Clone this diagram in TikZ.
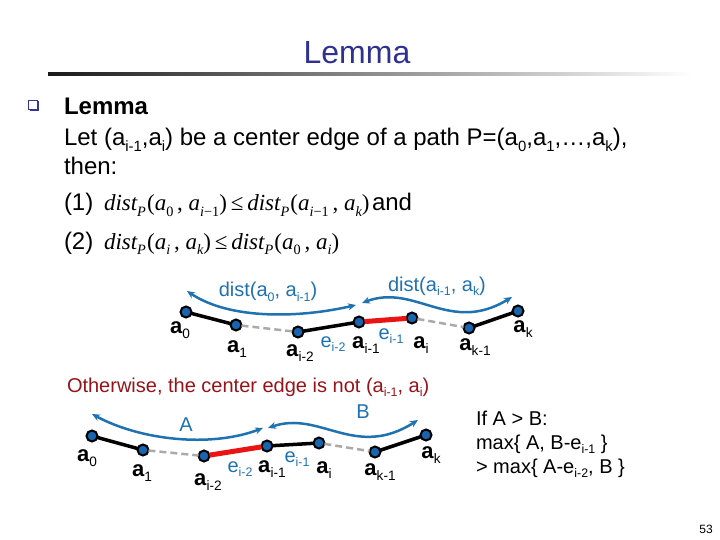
\documentclass[tikz,border=0pt]{standalone}
\usepackage{fontspec}
\usepackage{graphicx}
\setmainfont{Liberation Sans}
\newfontfamily\tms{Liberation Serif}
\usetikzlibrary{arrows.meta}
\definecolor{titleblue}{RGB}{46,49,146}
\definecolor{lblblue}{RGB}{31,114,176}
\definecolor{nodeblue}{RGB}{25,100,175}
\definecolor{darkred}{RGB}{150,20,25}
\definecolor{edgered}{RGB}{235,20,20}
\definecolor{dashgray}{RGB}{170,170,170}
\definecolor{bulblue}{RGB}{51,51,153}
\newcommand\fs[1]{\fontsize{#1}{#1}\selectfont}
\newcommand\lsb[1]{\raisebox{-0.22em}{\scalebox{0.62}{#1}}}
\newcommand\mi[1]{{\itshape #1}}
\newcommand\dst{\mi{dist}\lsb{\mi{P}}\hspace{0.05em}}
\begin{document}
\begin{tikzpicture}[x=1pt,y=-1pt,
  every node/.style={inner sep=0pt, outer sep=0pt},
  txt/.style={anchor=base west, font=\fs{24}},
  vtx/.style={circle, fill=nodeblue, draw=black, line width=2pt, minimum size=11pt},
  alab/.style={font=\fs{22}, anchor=center},
  elab/.style={font=\fs{20}, text=lblblue, anchor=center},
  solidedge/.style={line width=3.5pt, black},
  rededge/.style={line width=5pt, edgered},
  dashedge/.style={line width=2.5pt, dashgray, dash pattern=on 7pt off 4pt},
  distarrow/.style={line width=2.5pt, lblblue, {Stealth[length=8pt,width=7pt]}-{Stealth[length=8pt,width=7pt]}},
  dlab/.style={font=\fs{20}, text=lblblue, anchor=center}
]
\useasboundingbox (0,0) rectangle (720,540);
% title
\node[anchor=base, font=\fs{32}, text=titleblue] (title) at (357,64) {Lemma};
\shade[left color=black!90, right color=white] (48,72.8) rectangle (692,75.4);
% bullet
\fill[bulblue] (29.5,101.5) rectangle (39,111);
\filldraw[fill=white, draw=bulblue, line width=0.8pt] (28,100) rectangle (37,109.5);
\node[txt] (lemhead) at (64,115) {\bfseries Lemma};
\node[txt] (let) at (64,146) {Let (a\lsb{i-1},a\lsb{i}) be a center edge of a path P=(a\lsb{0},a\lsb{1},…,a\lsb{k}),};
\node[txt] (then) at (64,175) {then:};
\node[txt] (one) at (64,211) {(1)};
\node[txt, font=\tms\fs{23}] (f1) at (104,211) {\dst(\mi{a}\lsb{0}\,, \mi{a}\lsb{\mi{i}−1})\,≤\,\dst(\mi{a}\lsb{\mi{i}−1}\,, \mi{a}\lsb{\mi{k}})};
\node[txt] (and) at (372,211) {and};
\node[txt] (two) at (64,249) {(2)};
\node[txt, font=\tms\fs{23}] (f2) at (104,249) {\dst(\mi{a}\lsb{\mi{i}}\,, \mi{a}\lsb{\mi{k}})\,≤\,\dst(\mi{a}\lsb{0}\,, \mi{a}\lsb{\mi{i}})};
% ---------- top diagram
\node[vtx] (ta0) at (186,312) {};
\node[vtx] (ta1) at (236,325) {};
\node[vtx] (tai2) at (298,332) {};
\node[vtx] (tai1) at (359,322) {};
\node[vtx] (tai) at (412,318) {};
\node[vtx] (tak1) at (469,328) {};
\node[vtx] (tak) at (518,311) {};
\draw[solidedge] (ta0) -- (ta1);
\draw[dashedge] (ta1) -- (tai2);
\draw[solidedge] (tai2) -- (tai1);
\draw[rededge] (tai1) -- (tai);
\draw[dashedge] (tai) -- (tak1);
\draw[solidedge] (tak1) -- (tak);
\node[alab] (tla0) at (180,330) {\textbf{a}\lsb{0}};
\node[alab] (tla1) at (237,349) {\textbf{a}\lsb{1}};
\node[alab] (tlai2) at (300,353) {\textbf{a}\lsb{i-2}};
\node[elab] (tlei2) at (333,344) {e\lsb{i-2}};
\node[alab] (tlai1) at (366,345) {\textbf{a}\lsb{i-1}};
\node[elab] (tlei1) at (391,336) {e\lsb{i-1}};
\node[alab] (tlai) at (421,345) {\textbf{a}\lsb{i}};
\node[alab] (tlak1) at (475,347) {\textbf{a}\lsb{k-1}};
\node[alab] (tlak) at (523,329) {\textbf{a}\lsb{k}};
\coordinate (d1s) at (187,291);
\coordinate (d1e) at (356,305);
\coordinate (d2s) at (362,303);
\coordinate (d2e) at (512,297);
\draw[distarrow] (d1s) .. controls (230,320) and (300,318) .. (d1e);
\draw[distarrow] (d2s) .. controls (415,283) and (450,335) .. (d2e);
\node[dlab] (dl1) at (268,292) {dist(a\lsb{0}, a\lsb{i-1})};
\node[dlab] (dl2) at (437,286) {dist(a\lsb{i-1}, a\lsb{k})};
% ---------- otherwise
\node[txt, font=\fs{20}, text=darkred] (other) at (67,392) {Otherwise, the center edge is not (a\lsb{i-1}, a\lsb{i})};
% ---------- bottom diagram
\node[vtx] (ba0) at (92,436) {};
\node[vtx] (ba1) at (143,450) {};
\node[vtx] (bai2) at (204,456) {};
\node[vtx] (bai1) at (267,446) {};
\node[vtx] (bai) at (319,443) {};
\node[vtx] (bak1) at (375,452) {};
\node[vtx] (bak) at (426,435) {};
\draw[solidedge] (ba0) -- (ba1);
\draw[dashedge] (ba1) -- (bai2);
\draw[rededge] (bai2) -- (bai1);
\draw[solidedge] (bai1) -- (bai);
\draw[dashedge] (bai) -- (bak1);
\draw[solidedge] (bak1) -- (bak);
\node[alab] (bla0) at (87,458) {\textbf{a}\lsb{0}};
\node[alab] (bla1) at (142,473) {\textbf{a}\lsb{1}};
\node[alab] (blai2) at (208,482) {\textbf{a}\lsb{i-2}};
\node[elab] (blei2) at (240,469) {e\lsb{i-2}};
\node[alab] (blai1) at (272,469) {\textbf{a}\lsb{i-1}};
\node[elab] (blei1) at (297,459) {e\lsb{i-1}};
\node[alab] (blai) at (324,470) {\textbf{a}\lsb{i}};
\node[alab] (blak1) at (380,472) {\textbf{a}\lsb{k-1}};
\node[alab] (blak) at (431,455) {\textbf{a}\lsb{k}};
\coordinate (d3s) at (92,414);
\coordinate (d3e) at (263,428);
\coordinate (d4s) at (268,428);
\coordinate (d4e) at (418,420);
\draw[distarrow] (d3s) .. controls (140,440) and (210,448) .. (d3e);
\draw[distarrow] (d4s) .. controls (320,410) and (355,460) .. (d4e);
\node[dlab] (lA) at (186,425) {A};
\node[dlab] (lB) at (363,412) {B};
% ---------- condition
\node[txt, font=\fs{20}] (c1) at (476,425) {If A > B:};
\node[txt, font=\fs{20}] (c2) at (476,449) {max\{ A, B-e\lsb{i-1} \}};
\node[txt, font=\fs{20}] (c3) at (476,473) {> max\{ A-e\lsb{i-2}, B \}};
% page number
\node[anchor=base, font=\fs{12}] (pg) at (706,533) {53};
\end{tikzpicture}
\end{document}
